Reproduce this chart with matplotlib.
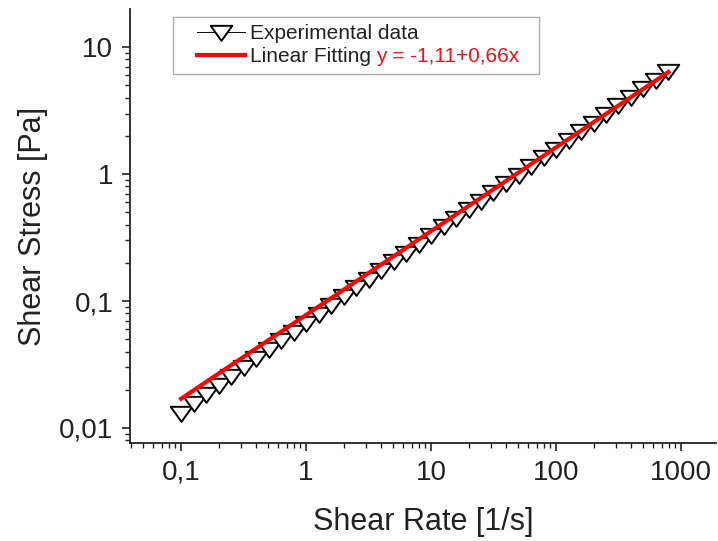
import math
import matplotlib
matplotlib.use("Agg")
import matplotlib.pyplot as plt
from matplotlib.path import Path
from matplotlib.lines import Line2D
from matplotlib.legend_handler import HandlerLine2D
from matplotlib.ticker import FixedLocator, FixedFormatter, LogLocator, NullFormatter

plt.rcParams["font.family"] = ["Liberation Sans", "DejaVu Sans"]

# measured points (shear rate in 1/s, shear stress in Pa)
shear_rate = [0.1, 0.126, 0.158, 0.2, 0.251, 0.316, 0.398, 0.501, 0.631, 0.794,
              1.0, 1.26, 1.58, 2.0, 2.51, 3.16, 3.98, 5.01, 6.31, 7.94,
              10.0, 12.6, 15.8, 20.0, 25.1, 31.6, 39.8, 50.1, 63.1, 79.4,
              100.0, 126.0, 158.0, 200.0, 251.0, 316.0, 398.0, 501.0, 631.0, 794.0]
shear_stress = [0.0132, 0.0157, 0.0185, 0.0218, 0.0256, 0.0302, 0.0356, 0.0417, 0.049, 0.0575,
                0.0676, 0.0793, 0.0929, 0.109, 0.128, 0.150, 0.175, 0.206, 0.241, 0.283,
                0.331, 0.387, 0.453, 0.530, 0.619, 0.724, 0.847, 0.991, 1.16, 1.36,
                1.59, 1.85, 2.17, 2.54, 2.97, 3.47, 4.06, 4.74, 5.55, 6.52]

# linear fit in log-log: log(y) = a + b*log(x)
fit_a = -1.11
fit_b = 0.66
fit_name = "Linear Fitting"
fit_label = "y = -1,11+0,66x"

x_ticks = [0.1, 1, 10, 100, 1000]
x_tick_labels = ["0,1", "1", "10", "100", "1000"]
y_ticks = [0.01, 0.1, 1, 10]
y_tick_labels = ["0,01", "0,1", "1", "10"]

txt = "#222222"

fig = plt.figure(figsize=(7.18, 5.41), dpi=100)
ax = fig.add_axes([0.181, 0.181, 0.816, 0.802])

# wide, flat downward triangle
tri = Path([(-1.0, 0.62), (1.0, 0.62), (0.0, -0.78), (-1.0, 0.62)],
           [Path.MOVETO, Path.LINETO, Path.LINETO, Path.CLOSEPOLY])

ax.plot(shear_rate, shear_stress, color="black", lw=0.7, marker=tri, ms=15.5,
        mfc="white", mec="black", mew=1.4, label="Experimental data", zorder=2)

fx = [shear_rate[0], shear_rate[-1]]
fy = [10 ** (fit_a + fit_b * math.log10(v)) for v in fx]
ax.plot(fx, fy, color="#ff0000", lw=3, label=fit_name + " " + fit_label + "  ", zorder=3)

ax.set_xscale("log")
ax.set_yscale("log")
ax.set_xlim(0.039, 1900)
ax.set_ylim(0.0076, 19.9)

ax.xaxis.set_major_locator(FixedLocator(x_ticks))
ax.xaxis.set_major_formatter(FixedFormatter(x_tick_labels))
ax.yaxis.set_major_locator(FixedLocator(y_ticks))
ax.yaxis.set_major_formatter(FixedFormatter(y_tick_labels))
for a in (ax.xaxis, ax.yaxis):
    a.set_minor_locator(LogLocator(base=10, subs=range(2, 10), numticks=20))
    a.set_minor_formatter(NullFormatter())

ax.spines["top"].set_visible(False)
ax.spines["right"].set_visible(False)
for s in ("left", "bottom"):
    ax.spines[s].set_linewidth(1.3)
    ax.spines[s].set_color(txt)

ax.tick_params(which="major", direction="out", length=6, width=1.2, labelsize=20,
               pad=6, colors=txt)
ax.tick_params(which="minor", direction="out", length=3.5, width=1.0, colors=txt)

ax.set_xlabel("Shear Rate [1/s]", fontsize=22, color=txt, labelpad=15)
ax.set_ylabel("Shear Stress [Pa]", fontsize=22, color=txt, labelpad=8)

leg = ax.legend(loc="upper left", bbox_to_anchor=(0.073, 0.982), borderaxespad=0,
                fontsize=15, frameon=True, fancybox=False, edgecolor="#999999",
                handlelength=3.1, handletextpad=0.25, labelspacing=0.2,
                borderpad=0.35, handler_map={Line2D: HandlerLine2D(xpad=0.8)})
leg.get_frame().set_linewidth(1.0)
for t in leg.get_texts():
    t.set_color(txt)

# second label: black name + red equation drawn over a hidden full-width label
fit_text = leg.get_texts()[1]
fit_text.set_alpha(0)
fig.canvas.draw()
bb = fit_text.get_window_extent()
fig_w, fig_h = fig.get_size_inches() * fig.dpi
yc = (bb.y0 + bb.y1) / 2 / fig_h
name = fig.text(bb.x0 / fig_w, yc, fit_name, color=txt, fontsize=15,
                va="center", ha="left", zorder=10)
fig.canvas.draw()
nb = name.get_window_extent()
fig.text((nb.x1 + 5) / fig_w, yc, fit_label, color="#e8141c",
         fontsize=15, va="center", ha="left", zorder=10)

fig.savefig("out.png", dpi=100)
